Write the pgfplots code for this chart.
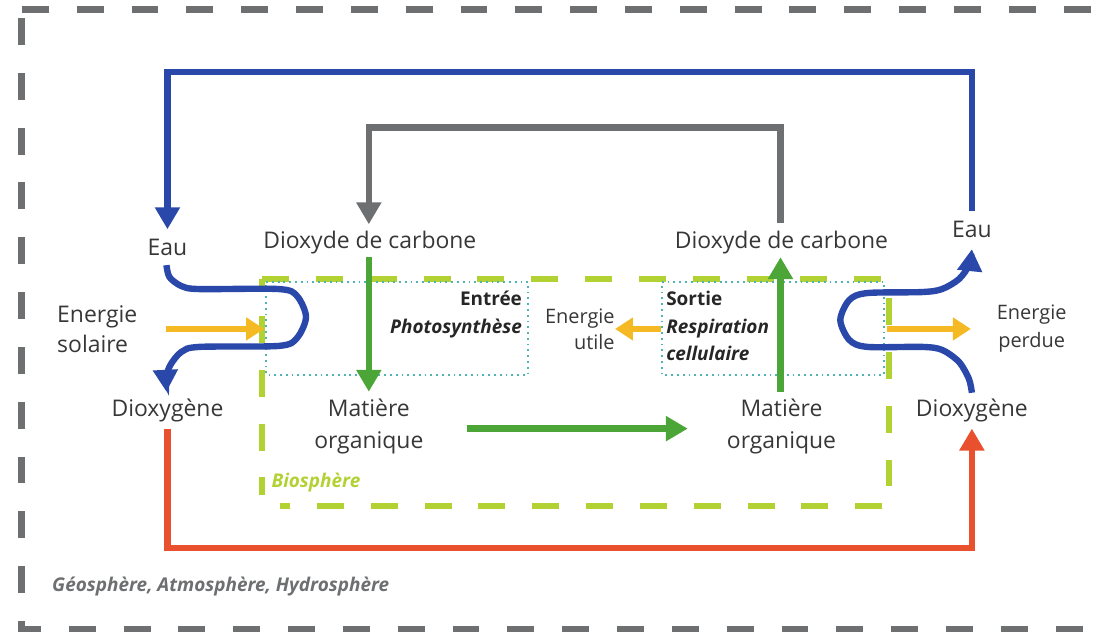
\documentclass[border=0pt]{standalone}
\usepackage{pgfplots}
\pgfplotsset{compat=1.18}
\usepackage{fontspec}
\setmainfont{Open Sans}
\usetikzlibrary{arrows.meta}
\definecolor{cblue}{RGB}{42,72,170}
\definecolor{cgray}{RGB}{110,111,113}
\definecolor{cgreen}{RGB}{75,165,55}
\definecolor{clight}{RGB}{178,210,52}
\definecolor{cyell}{RGB}{245,185,35}
\definecolor{cred}{RGB}{233,80,45}
\definecolor{cteal}{RGB}{80,180,180}
\definecolor{ctext}{RGB}{55,55,55}
\begin{document}
\begin{tikzpicture}
\begin{axis}[width=547pt,height=318pt,scale only axis,
  xmin=0,xmax=1094,ymin=0,ymax=636,y dir=reverse,
  hide axis,clip=false]
% full extent (invisible)
\addplot[draw=none,forget plot] coordinates {(0,0)(1094,636)};
% outer dashed frame
\addplot[cgray,line width=3.5pt,dash pattern=on 13.5pt off 14pt] coordinates {(22,10)(1094,10)};
\addplot[cgray,line width=3.5pt,dash pattern=on 13.5pt off 14pt,line join=miter] coordinates {(22,18)(22,631)(1094,631)};
% biosphere dashed
\addplot[clight,line width=3pt,dash pattern=on 13.5pt off 13.5pt,line join=miter] coordinates {(263,280)(892,280)(892,508)(281,508)};
\addplot[clight,line width=3pt,dash pattern=on 13.5pt off 13.5pt,dash phase=8.5pt] coordinates {(263,280)(263,497)};
% teal dotted boxes
\addplot[cteal,line width=0.9pt,dotted] coordinates {(267,283)(530,283)(530,376)(267,376)(267,283)};
\addplot[cteal,line width=0.9pt,dotted] coordinates {(664,283)(887,283)(887,376)(664,376)(664,283)};
% big blue loop
\addplot[cblue,line width=3.2pt,line join=miter,-{Triangle[length=11pt,width=12pt]}] coordinates {(975,212)(975,72)(168,72)(168,230)};
% gray loop
\addplot[cgray,line width=3.2pt,line join=miter,-{Triangle[length=11pt,width=12pt]}] coordinates {(783,224)(783,128)(370,128)(370,225)};
% green arrows
\addplot[cgreen,line width=3.2pt,-{Triangle[length=11pt,width=12pt]}] coordinates {(370,258)(370,393)};
\addplot[cgreen,line width=3.2pt,-{Triangle[length=11pt,width=12pt]}] coordinates {(783,393)(783,258)};
\addplot[cgreen,line width=3.2pt,-{Triangle[length=11pt,width=12pt]}] coordinates {(468,430)(690,430)};
% yellow arrows
\addplot[cyell,line width=3.2pt,-{Triangle[length=9pt,width=11pt]}] coordinates {(167,330)(265,330)};
\addplot[cyell,line width=3.2pt,-{Triangle[length=9pt,width=11pt]}] coordinates {(663,330)(617,330)};
\addplot[cyell,line width=3.2pt,-{Triangle[length=9pt,width=11pt]}] coordinates {(890,330)(974,330)};
% red loop
\addplot[cred,line width=3.2pt,line join=miter,-{Triangle[length=11pt,width=12pt]}] coordinates {(168,430)(168,550)(975,550)(975,430)};
% blue S curves
\addplot[cblue,line width=3.2pt,smooth,tension=0.5,-{Triangle[length=11pt,width=12pt]}] coordinates {
(167,266)(170,278)(182,287)(200,290)(280,290)(298,297)(307,318)(298,339)(280,347)(200,348)(182,353)(171,366)(167,378)(167,393)};
\addplot[cblue,line width=3.2pt,smooth,tension=0.5,-{Triangle[length=11pt,width=12pt]}] coordinates {
(975,394)(972,380)(962,363)(945,351)(925,348)(870,348)(852,341)(843,321)(852,301)(870,294)(925,293)(945,290)(962,280)(972,266)(975,250)};
% texts
\begin{scope}[every node/.style={text=ctext,inner sep=0pt}]
\node[font=\fontsize{11.5}{15}\selectfont] at (axis cs:168,248) {Eau};
\node[font=\fontsize{11.5}{15}\selectfont] at (axis cs:975,230) {Eau};
\node[font=\fontsize{11.5}{15}\selectfont] at (axis cs:371,243) {Dioxyde de carbone};
\node[font=\fontsize{11.5}{15}\selectfont] at (axis cs:784,243) {Dioxyde de carbone};
\node[font=\fontsize{11.5}{15}\selectfont,anchor=west,align=left] at (axis cs:57,330) {Energie\\solaire};
\node[font=\fontsize{11.5}{15}\selectfont] at (axis cs:168,412) {Dioxygène};
\node[font=\fontsize{11.5}{15}\selectfont] at (axis cs:975,412) {Dioxygène};
\node[font=\fontsize{11.5}{16}\selectfont,align=center] at (axis cs:370,428) {Matière\\organique};
\node[font=\fontsize{11.5}{16}\selectfont,align=center] at (axis cs:784,428) {Matière\\organique};
\node[font=\fontsize{10}{13}\selectfont,align=right,anchor=east] at (axis cs:617,330) {Energie\\utile};
\node[font=\fontsize{10}{14}\selectfont,align=center] at (axis cs:1035,330) {Energie\\perdue};
\node[font=\fontsize{9.5}{14}\selectfont\bfseries,align=right,anchor=north east,text=black!85] at (axis cs:524,292) {Entrée\\\itshape Photosynthèse};
\node[font=\fontsize{9.5}{13.7}\selectfont\bfseries,align=left,anchor=north west,text=black!85] at (axis cs:668,292) {Sortie\\\itshape Respiration\\\itshape cellulaire};
\node[font=\fontsize{9.5}{12}\selectfont\bfseries\itshape,anchor=west,text=clight] at (axis cs:272,484) {Biosphère};
\node[font=\fontsize{9.5}{12}\selectfont\bfseries\itshape,anchor=west,text=cgray] at (axis cs:52,588) {Géosphère, Atmosphère, Hydrosphère};
\end{scope}
\end{axis}
\end{tikzpicture}
\end{document}
